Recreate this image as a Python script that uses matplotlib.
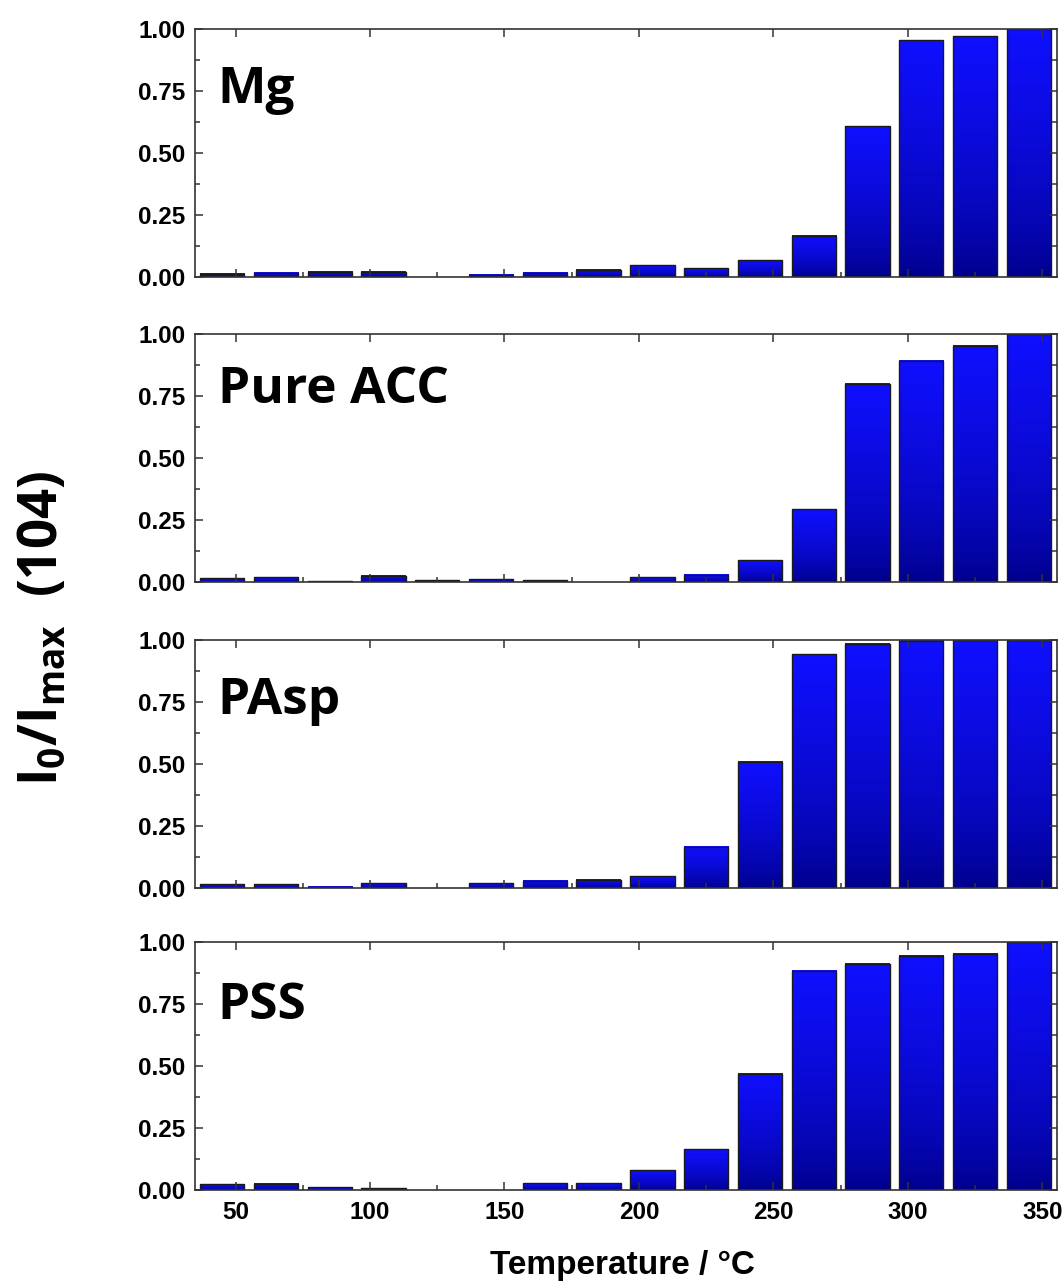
import numpy as np
import matplotlib
matplotlib.use("Agg")
import matplotlib.pyplot as plt
from matplotlib.ticker import MultipleLocator, FormatStrFormatter

# Annealing temperatures (°C) and normalised (104) intensities per sample
temperatures = [45, 65, 85, 105, 125, 145, 165, 185, 205, 225, 245, 265, 285, 305, 325, 345]
samples = ["Mg", "Pure ACC", "PAsp", "PSS"]
mg = [0.013, 0.018, 0.021, 0.021, 0.0, 0.009, 0.018, 0.030, 0.048, 0.035,
      0.067, 0.166, 0.608, 0.953, 0.969, 1.0]
pure_acc = [0.016, 0.020, 0.004, 0.026, 0.008, 0.011, 0.008, 0.0, 0.019, 0.029,
            0.087, 0.294, 0.799, 0.891, 0.951, 1.0]
pasp = [0.015, 0.016, 0.005, 0.020, 0.0, 0.019, 0.030, 0.034, 0.048, 0.167,
        0.509, 0.942, 0.983, 0.996, 1.0, 1.0]
pss = [0.023, 0.026, 0.012, 0.008, 0.0, 0.0, 0.028, 0.027, 0.079, 0.165,
       0.468, 0.883, 0.911, 0.944, 0.952, 1.0]
series = [mg, pure_acc, pasp, pss]

plt.rcParams["mathtext.fontset"] = "custom"
plt.rcParams["mathtext.rm"] = "Open Sans:bold"
plt.rcParams["mathtext.it"] = "Open Sans:bold"
plt.rcParams["mathtext.bf"] = "Open Sans:bold"

TICK_FONT = dict(family="Liberation Sans", weight="bold", size=17.5)
BAR_WIDTH = 16.5
SPINE_COLOR = "#333333"

# vertical blue gradient: dark navy at the base, bright blue at the top
t = np.linspace(0, 1, 256) ** 0.65
grad = np.zeros((256, 1, 3))
grad[:, 0, 0] = 0.06 * t
grad[:, 0, 1] = 0.06 * t
grad[:, 0, 2] = 0.53 + 0.47 * t


def gradient_bars(ax, xs, hs, width):
    for x, h in zip(xs, hs):
        if h <= 0:
            continue
        ax.imshow(grad, extent=[x - width / 2, x + width / 2, 0, h], origin="lower",
                  aspect="auto", interpolation="bilinear", zorder=1)
    ax.bar([x for x, h in zip(xs, hs) if h > 0], [h for h in hs if h > 0],
           width=width, fill=False, edgecolor="#1a1a1a", linewidth=1.0, zorder=1.5)


fig = plt.figure(figsize=(10.64, 12.83), dpi=100)
bottoms = [0.7841, 0.5464, 0.3079, 0.0725]
height = 0.1935
left, width = 0.1835, 0.8100
label_y = [0.70, 0.72, 0.70, 0.69]

for i, (name, vals) in enumerate(zip(samples, series)):
    ax = fig.add_axes([left, bottoms[i], width, height])
    gradient_bars(ax, temperatures, vals, BAR_WIDTH)
    ax.set_xlim(35, 355.5)
    ax.set_ylim(0, 1.0)

    ax.xaxis.set_major_locator(MultipleLocator(50))
    ax.xaxis.set_minor_locator(MultipleLocator(25))
    ax.yaxis.set_major_locator(MultipleLocator(0.25))
    ax.yaxis.set_minor_locator(MultipleLocator(0.125))
    ax.yaxis.set_major_formatter(FormatStrFormatter("%.2f"))

    ax.tick_params(which="both", direction="in", top=True, right=True,
                   color=SPINE_COLOR, width=1.1)
    ax.tick_params(which="major", length=5.5, pad=7)
    ax.tick_params(which="minor", length=3.5, top=False)
    ax.tick_params(axis="y", which="minor", right=True)
    ax.tick_params(axis="x", labelbottom=(i == len(samples) - 1), pad=8)

    for lab in ax.get_yticklabels() + ax.get_xticklabels():
        lab.set_fontproperties(TICK_FONT)
        lab.set_fontsize(TICK_FONT["size"])

    for sp in ax.spines.values():
        sp.set_color(SPINE_COLOR)
        sp.set_linewidth(1.2)
        sp.set_zorder(3)

    ax.text(0.026, label_y[i], name, transform=ax.transAxes, ha="left", va="baseline",
            family="Open Sans", weight="bold", fontsize=37, zorder=4)

fig.text(0.585, 0.007, "Temperature / °C", ha="center", va="baseline",
         family="Liberation Sans", weight="bold", fontsize=24)
fig.text(0.041, 0.51, r"I$_0$/I$_{\mathrm{max}}$  (104)", rotation=90,
         ha="center", va="center", family="Open Sans", weight="bold", fontsize=38)

fig.savefig("out.png", dpi=100)
